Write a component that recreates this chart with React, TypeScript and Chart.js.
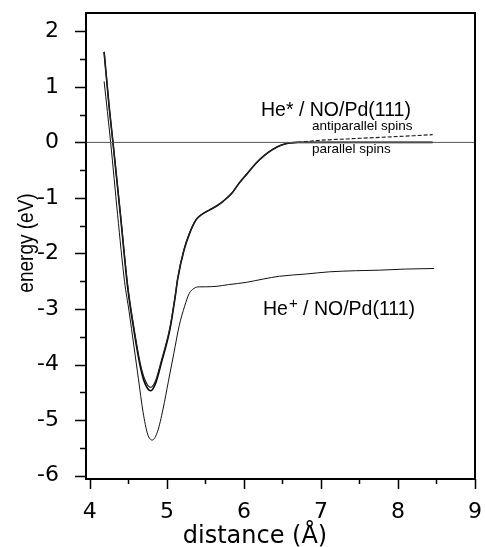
import React, { useEffect, useRef } from "react";
import { Chart, registerables } from "chart.js";

Chart.register(...registerables);

// He* / NO/Pd(111)  (both spin states share the distance grid)
const heStarDistance = [4.185, 4.25, 4.30, 4.40, 4.49, 4.58, 4.65, 4.70, 4.75, 4.79, 4.85, 4.93, 5.04, 5.11, 5.14, 5.22, 5.30, 5.38, 5.45, 5.55, 5.65, 5.73, 5.84, 5.94, 6.05, 6.16, 6.27, 6.37, 6.48, 6.59, 6.70, 6.85, 7.0, 7.3, 7.6, 7.9, 8.2, 8.45];
const parallelEnergy = [1.63, 0.65, 0.0, -1.35, -2.6, -3.45, -4.0, -4.28, -4.43, -4.47, -4.35, -3.96, -3.36, -2.76, -2.46, -1.95, -1.62, -1.39, -1.3, -1.22, -1.14, -1.06, -0.92, -0.73, -0.55, -0.37, -0.23, -0.13, -0.05, -0.01, 0.0, 0.0, 0.0, 0.0, 0.0, 0.0, 0.0, 0.0];
const antiparallelEnergy = [1.63, 0.65, 0.0, -1.33, -2.56, -3.4, -3.95, -4.22, -4.37, -4.41, -4.3, -3.92, -3.33, -2.74, -2.45, -1.94, -1.61, -1.39, -1.3, -1.22, -1.14, -1.06, -0.92, -0.73, -0.55, -0.37, -0.23, -0.13, -0.05, -0.01, 0.0, 0.02, 0.04, 0.06, 0.08, 0.1, 0.12, 0.14];

// He+ / NO/Pd(111)
const heIonDistance = [4.185, 4.27, 4.36, 4.45, 4.51, 4.57, 4.63, 4.69, 4.75, 4.81, 4.88, 4.95, 5.02, 5.09, 5.16, 5.23, 5.29, 5.35, 5.42, 5.5, 5.65, 5.8, 6.03, 6.25, 6.46, 6.8, 7.11, 7.45, 7.76, 8.1, 8.47];
const heIonEnergy = [1.1, 0.0, -1.3, -2.5, -3.05, -3.65, -4.25, -4.85, -5.25, -5.36, -5.2, -4.8, -4.3, -3.8, -3.3, -2.95, -2.72, -2.63, -2.6, -2.6, -2.59, -2.56, -2.52, -2.46, -2.41, -2.37, -2.33, -2.31, -2.30, -2.28, -2.27];

const zeroLine = [0, 0];
const zeroLineX = [3.95, 9.0];

const xTicks = [4, 5, 6, 7, 8, 9];
const xMinorTicks = [4.5, 5.5, 6.5, 7.5, 8.5];
const yTicks = [-6, -5, -4, -3, -2, -1, 0, 1, 2];
const yMinorTicks = [-5.5, -4.5, -3.5, -2.5, -1.5, -0.5, 0.5, 1.5];

const xTitle = "distance (Å)";
const yTitle = "energy (eV)";
const heStarLabel = "He* / NO/Pd(111)";
const antiLabel = "antiparallel spins";
const parLabel = "parallel spins";
const heIonLabelA = "He";
const heIonLabelSup = "+";
const heIonLabelB = " / NO/Pd(111)";

const pts = (xs: number[], ys: number[]) => xs.map((x, i) => ({ x, y: ys[i] }));

const decor = {
  id: "decor",
  afterDraw(chart: any) {
    const { ctx, chartArea: a, scales } = chart;
    const xs = scales.x;
    const ys = scales.y;
    ctx.save();
    ctx.strokeStyle = "#000";
    ctx.lineWidth = 2;
    ctx.strokeRect(a.left, a.top, a.right - a.left, a.bottom - a.top);
    ctx.lineWidth = 1.5;
    ctx.beginPath();
    yTicks.forEach((v) => {
      const p = Math.round(ys.getPixelForValue(v)) + 0.5;
      ctx.moveTo(a.left - 11, p);
      ctx.lineTo(a.left, p);
    });
    yMinorTicks.forEach((v) => {
      const p = Math.round(ys.getPixelForValue(v)) + 0.5;
      ctx.moveTo(a.left - 6, p);
      ctx.lineTo(a.left, p);
    });
    xTicks.forEach((v) => {
      const p = Math.round(xs.getPixelForValue(v)) + 0.5;
      ctx.moveTo(p, a.bottom);
      ctx.lineTo(p, a.bottom + 10);
    });
    xMinorTicks.forEach((v) => {
      const p = Math.round(xs.getPixelForValue(v)) + 0.5;
      ctx.moveTo(p, a.bottom);
      ctx.lineTo(p, a.bottom + 5);
    });
    ctx.stroke();

    ctx.fillStyle = "#000";
    ctx.textBaseline = "alphabetic";
    ctx.textAlign = "left";
    ctx.font = "19.5px 'Liberation Sans', Arial, sans-serif";
    ctx.fillText(heStarLabel, 261, 116);
    ctx.font = "13.5px 'Liberation Sans', Arial, sans-serif";
    ctx.fillText(antiLabel, 312, 130);
    ctx.fillText(parLabel, 312, 153);

    ctx.font = "19.5px 'Liberation Sans', Arial, sans-serif";
    let x = 263;
    ctx.fillText(heIonLabelA, x, 315);
    x += ctx.measureText(heIonLabelA).width + 1;
    ctx.font = "15px 'Liberation Sans', Arial, sans-serif";
    ctx.fillText(heIonLabelSup, x, 308);
    x += ctx.measureText(heIonLabelSup).width;
    ctx.font = "19.5px 'Liberation Sans', Arial, sans-serif";
    ctx.fillText(heIonLabelB, x, 315);

    ctx.font = "24px 'DejaVu Sans', sans-serif";
    ctx.textAlign = "center";
    ctx.fillText(xTitle, 255, 543);

    ctx.translate(27, 243);
    ctx.scale(1.2, 1);
    ctx.rotate(-Math.PI / 2);
    ctx.textBaseline = "middle";
    ctx.font = "19px 'Liberation Sans', Arial, sans-serif";
    ctx.fillText(yTitle, 0, 0);
    ctx.restore();
  },
};

export default function App() {
  const ref = useRef<HTMLCanvasElement | null>(null);
  useEffect(() => {
    if (!ref.current) return;
    const chart = new Chart(ref.current, {
      type: "line",
      data: {
        datasets: [
          {
            label: "zero",
            data: pts(zeroLineX, zeroLine),
            borderColor: "#555",
            borderWidth: 1,
            pointRadius: 0,
          },
          {
            label: "He+ / NO/Pd(111)",
            data: pts(heIonDistance, heIonEnergy),
            borderColor: "#111",
            borderWidth: 1,
            pointRadius: 0,
            cubicInterpolationMode: "monotone",
          },
          {
            label: "antiparallel spins",
            data: pts(heStarDistance, antiparallelEnergy),
            borderColor: "#222",
            borderWidth: 1.2,
            pointRadius: 0,
            cubicInterpolationMode: "monotone",
            segment: {
              borderDash: (c: any) => (c.p0.parsed.x >= 6.7 ? [4, 2] : undefined),
            },
          },
          {
            label: "parallel spins",
            data: pts(heStarDistance, parallelEnergy),
            borderColor: "#000",
            borderWidth: 1.6,
            pointRadius: 0,
            cubicInterpolationMode: "monotone",
          },
        ],
      },
      options: {
        responsive: false,
        animation: false,
        layout: { padding: { top: 13, right: 10, left: 0, bottom: 0 } },
        plugins: { legend: { display: false }, tooltip: { enabled: false } },
        scales: {
          x: {
            type: "linear",
            min: 3.95,
            max: 9.0,
            afterBuildTicks: (s: any) => {
              s.ticks = xTicks.map((v) => ({ value: v }));
            },
            afterFit: (s: any) => {
              s.height = 68;
              s.paddingLeft = 0;
              s.paddingRight = 0;
              s.paddingTop = 0;
              s.paddingBottom = 0;
            },
            grid: { display: false, drawTicks: false },
            border: { display: false },
            ticks: {
              color: "#000",
              padding: 20,
              maxRotation: 0,
              autoSkip: false,
              font: { family: "'DejaVu Sans', sans-serif", size: 22 },
            },
          },
          y: {
            type: "linear",
            min: -6.06,
            max: 2.33,
            afterBuildTicks: (s: any) => {
              s.ticks = yTicks.map((v) => ({ value: v }));
            },
            afterFit: (s: any) => {
              s.width = 86;
              s.paddingLeft = 0;
              s.paddingRight = 0;
              s.paddingTop = 0;
              s.paddingBottom = 0;
            },
            grid: { display: false, drawTicks: false },
            border: { display: false },
            ticks: {
              color: "#000",
              padding: 27,
              autoSkip: false,
              font: { family: "'DejaVu Sans', sans-serif", size: 22 },
            },
          },
        },
      },
      plugins: [decor],
    });
    return () => chart.destroy();
  }, []);
  return (
    <div style={{ position: "absolute", left: 0, top: 0, width: 485, height: 547, background: "#fff" }}>
      <canvas ref={ref} width={485} height={547} style={{ display: "block" }} />
    </div>
  );
}
